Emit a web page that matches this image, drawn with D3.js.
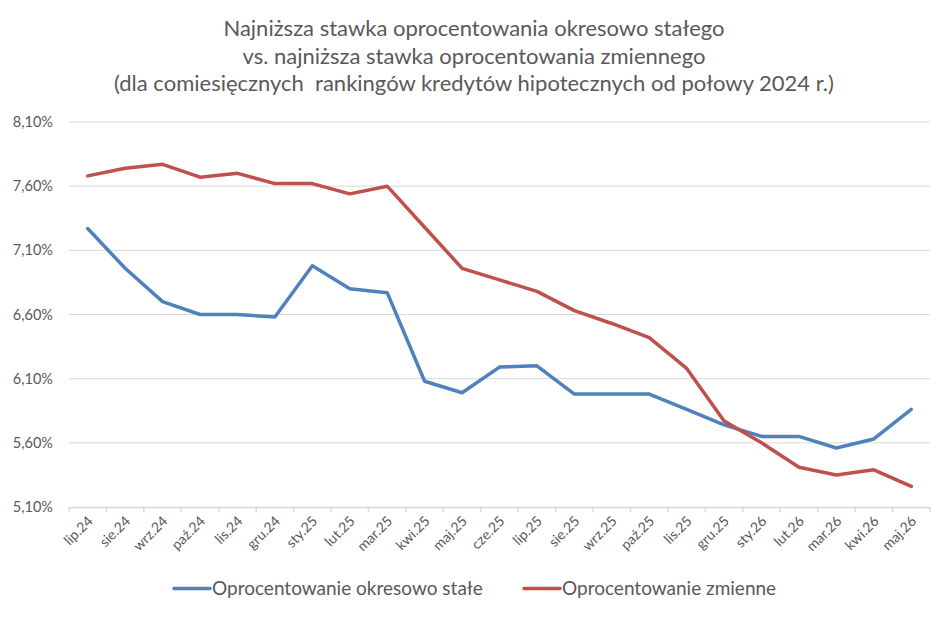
<!DOCTYPE html>
<html>
<head>
<meta charset="utf-8">
<script src="https://cdn.jsdelivr.net/npm/d3@7"></script>
<style>
  body { margin: 0; background: #fff; }
  svg text { font-family: Lato, "Open Sans", sans-serif; fill: #595959; }
</style>
</head>
<body>
<svg id="chart" width="948" height="617"></svg>
<script>
// Data
const months = ['lip.24', 'sie.24', 'wrz.24', 'paź.24', 'lis.24', 'gru.24', 'sty.25', 'lut.25',
  'mar.25', 'kwi.25', 'maj.25', 'cze.25', 'lip.25', 'sie.25', 'wrz.25', 'paź.25', 'lis.25',
  'gru.25', 'sty.26', 'lut.26', 'mar.26', 'kwi.26', 'maj.26'];
const fixedRate = [7.27, 6.96, 6.70, 6.60, 6.60, 6.58, 6.98, 6.80, 6.77, 6.08, 5.99, 6.19,
  6.20, 5.98, 5.98, 5.98, 5.86, 5.74, 5.65, 5.65, 5.56, 5.63, 5.86];
const variableRate = [7.68, 7.74, 7.77, 7.67, 7.70, 7.62, 7.62, 7.54, 7.60, 7.28, 6.96, 6.87,
  6.78, 6.63, 6.53, 6.42, 6.18, 5.77, 5.60, 5.41, 5.35, 5.39, 5.26];
const yTicks = [5.10, 5.60, 6.10, 6.60, 7.10, 7.60, 8.10];
const titleLines = [
  'Najniższa stawka oprocentowania okresowo stałego',
  'vs. najniższa stawka oprocentowania zmiennego',
  '(dla comiesięcznych  rankingów kredytów hipotecznych od połowy 2024 r.)'
];
const seriesNames = ['Oprocentowanie okresowo stałe', 'Oprocentowanie zmienne'];
const colors = ['#4f81bd', '#c0504d'];

const svg = d3.select('#chart');
const margin = {left: 69, right: 18, top: 122, bottom: 110};
const width = 948, height = 617;

const x = d3.scaleBand().domain(months).range([margin.left, width - margin.right]);
const y = d3.scaleLinear().domain([5.10, 8.10]).range([height - margin.bottom, margin.top]);

// Title
svg.append('g').selectAll('text')
  .data(titleLines)
  .enter().append('text')
  .attr('x', 474)
  .attr('y', (d, i) => 36 + i * 27.5)
  .attr('text-anchor', 'middle')
  .style('font-size', '22px')
  .style('white-space', 'pre')
  .text(d => d);

// Gridlines
svg.append('g').selectAll('line')
  .data(yTicks.slice(1))
  .enter().append('line')
  .attr('x1', margin.left).attr('x2', width - margin.right)
  .attr('y1', d => y(d)).attr('y2', d => y(d))
  .attr('stroke', '#d9d9d9').attr('stroke-width', 1);

// Y axis labels
const yAxis = d3.axisLeft(y).tickValues(yTicks).tickSize(0).tickPadding(16)
  .tickFormat(d => d.toFixed(2).replace('.', ',') + '%');
svg.append('g')
  .attr('transform', `translate(${margin.left},0)`)
  .call(yAxis)
  .call(g => g.select('.domain').remove())
  .call(g => g.selectAll('text').style('font-size', '14.5px').attr('fill', '#595959'));

// X axis
const xAxis = d3.axisBottom(x).tickSize(0).tickPadding(0);
const gx = svg.append('g')
  .attr('transform', `translate(0,${y(5.10)})`)
  .call(xAxis);
gx.select('.domain').attr('stroke', '#d9d9d9').attr('stroke-width', 1.5);
gx.selectAll('.tick line').remove();
// tick marks at band boundaries
gx.selectAll('.bound')
  .data(months.concat(['end']))
  .enter().append('line')
  .attr('x1', (d, i) => margin.left + i * x.step())
  .attr('x2', (d, i) => margin.left + i * x.step())
  .attr('y1', 0).attr('y2', 5)
  .attr('stroke', '#d9d9d9').attr('stroke-width', 1.5);
gx.selectAll('.tick text')
  .attr('fill', '#595959')
  .style('font-size', '14px')
  .attr('text-anchor', 'end')
  .attr('dy', 0)
  .attr('transform', 'translate(6,15) rotate(-45)');

// Lines
const line = d3.line()
  .x((d, i) => x(months[i]) + x.bandwidth() / 2)
  .y(d => y(d));

[fixedRate, variableRate].forEach((series, k) => {
  svg.append('path')
    .datum(series)
    .attr('d', line)
    .attr('fill', 'none')
    .attr('stroke', colors[k])
    .attr('stroke-width', 3.5)
    .attr('stroke-linejoin', 'round')
    .attr('stroke-linecap', 'round');
});

// Legend
const legendX = [174, 524];
const legend = svg.append('g').selectAll('g')
  .data(seriesNames)
  .enter().append('g')
  .attr('transform', (d, i) => `translate(${legendX[i]},588.5)`);
legend.append('line')
  .attr('x1', 0).attr('x2', 36)
  .attr('stroke', (d, i) => colors[i])
  .attr('stroke-width', 3.5)
  .attr('stroke-linecap', 'round');
legend.append('text')
  .attr('x', 38).attr('y', 6.5)
  .style('font-size', '19px')
  .text(d => d);
</script>
</body>
</html>
